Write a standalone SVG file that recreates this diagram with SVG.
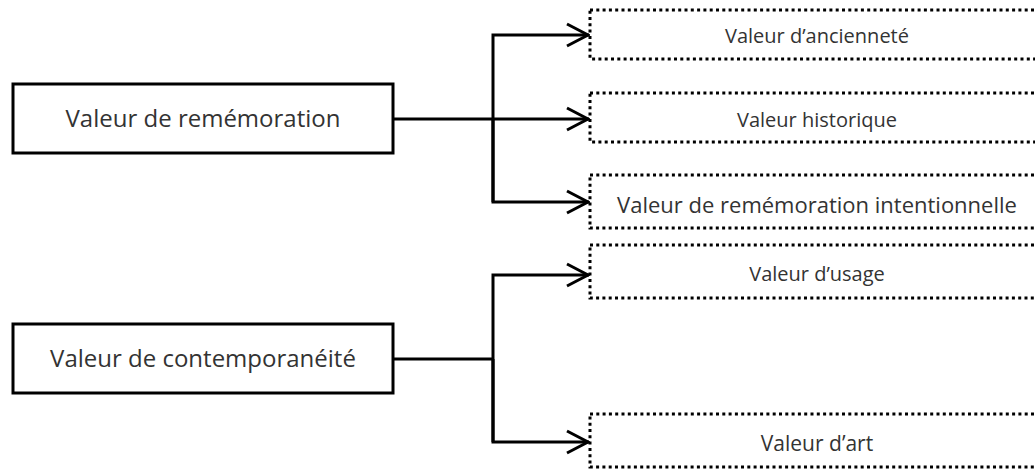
<svg xmlns="http://www.w3.org/2000/svg" width="1035" height="470" viewBox="0 0 1035 470">
<style>
.solid{fill:#fff;stroke:#000;stroke-width:3}
.dot{fill:#fff;stroke:#000;stroke-width:3;stroke-dasharray:3 3.3}
.t{font-family:"Open Sans","Noto Sans",sans-serif;fill:#333;text-anchor:middle}
.ln{fill:none;stroke:#000;stroke-width:3}
</style>
<defs>
<marker id="arr" markerUnits="userSpaceOnUse" markerWidth="28" markerHeight="28" refX="24" refY="14" orient="auto">
<path d="M2,3 L23,14 L2,25" fill="none" stroke="#000" stroke-width="3"/>
</marker>
</defs>
<rect width="1035" height="470" fill="#fff"/>
<g id="connectors">
<path class="ln" d="M393,119 H589" marker-end="url(#arr)"/>
<path class="ln" d="M493,202 V35 H589" marker-end="url(#arr)"/>
<path class="ln" d="M493,119 V202 H589" marker-end="url(#arr)"/>
<path class="ln" d="M393,359 H493"/>
<path class="ln" d="M493,442 V275 H589" marker-end="url(#arr)"/>
<path class="ln" d="M493,359 V442 H589" marker-end="url(#arr)"/>
</g>
<g id="n-rememoration">
<rect class="solid" x="13" y="84" width="380" height="69"/>
<text class="t" x="203" y="127" font-size="24">Valeur de remémoration</text>
</g>
<g id="n-contemporaneite">
<rect class="solid" x="13" y="324" width="380" height="69"/>
<text class="t" x="203" y="367" font-size="24">Valeur de contemporanéité</text>
</g>
<g id="n-anciennete">
<rect class="dot" x="590" y="10" width="460" height="49"/>
<text class="t" x="817" y="43" font-size="20">Valeur d’ancienneté</text>
</g>
<g id="n-historique">
<rect class="dot" x="590" y="93" width="460" height="49"/>
<text class="t" x="817" y="127" font-size="20">Valeur historique</text>
</g>
<g id="n-intentionnelle">
<rect class="dot" x="590" y="175" width="460" height="53"/>
<text class="t" x="817" y="213" font-size="22">Valeur de remémoration intentionnelle</text>
</g>
<g id="n-usage">
<rect class="dot" x="590" y="245" width="460" height="53"/>
<text class="t" x="817" y="281" font-size="20">Valeur d’usage</text>
</g>
<g id="n-art">
<rect class="dot" x="590" y="414" width="460" height="53"/>
<text class="t" x="817" y="451" font-size="21">Valeur d’art</text>
</g>
</svg>
